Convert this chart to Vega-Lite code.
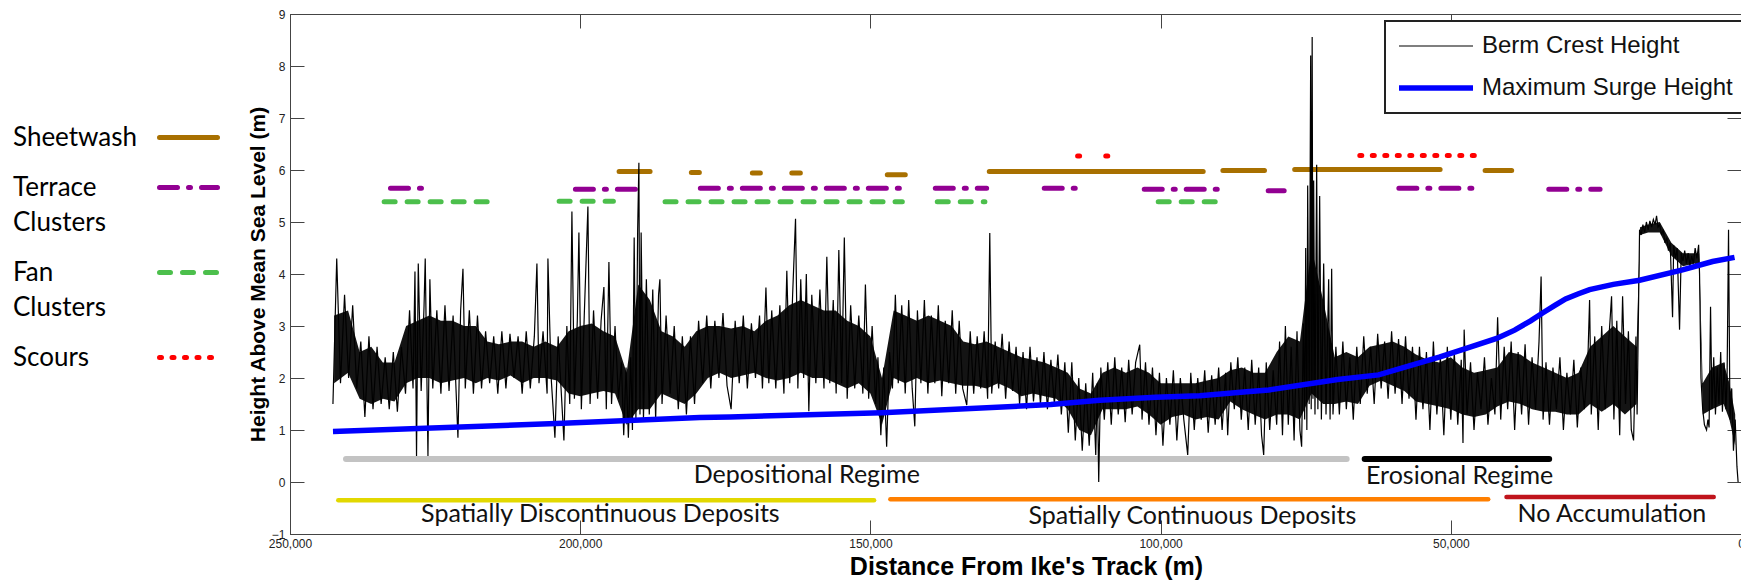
{
"$schema": "https://vega.github.io/schema/vega-lite/v6.json",
"width": 1451, "height": 520,
"autosize": {"type": "none"},
"padding": {"left": 290, "top": 14, "right": 0, "bottom": 48},
"background": "white",
"config": {
  "view": {"stroke": "#444", "strokeWidth": 1},
  "font": "Liberation Sans",
  "axis": {"domainColor": "#444", "tickColor": "#444", "domainWidth": 1, "tickWidth": 1, "labelColor": "#222", "labelFont": "Liberation Sans", "labelFontSize": 12, "grid": false, "titleColor": "#000"}
},
"datasets": {
"core": [
{"d":242400,"lo":1.9,"hi":3.2},{"d":240000,"lo":2.1,"hi":3.3},{"d":238000,"lo":1.6,"hi":2.5},{"d":236000,"lo":1.5,"hi":2.6},{"d":234000,"lo":1.6,"hi":2.3},{"d":232000,"lo":1.55,"hi":2.3},{"d":230000,"lo":1.9,"hi":3.0},{"d":228000,"lo":2.0,"hi":3.1},{"d":226000,"lo":2.0,"hi":3.2},{"d":224000,"lo":1.9,"hi":3.1},{"d":222000,"lo":1.95,"hi":3.1},{"d":220000,"lo":2.0,"hi":3.0},{"d":218000,"lo":1.9,"hi":3.0},{"d":216000,"lo":2.0,"hi":2.7},{"d":214000,"lo":1.95,"hi":2.65},{"d":212000,"lo":2.05,"hi":2.7},{"d":210000,"lo":1.9,"hi":2.7},{"d":208000,"lo":2.0,"hi":2.6},{"d":206000,"lo":2.0,"hi":2.7},{"d":204000,"lo":1.95,"hi":2.6},{"d":202000,"lo":1.7,"hi":2.9},{"d":200000,"lo":1.65,"hi":3.0},{"d":198000,"lo":1.7,"hi":3.05},{"d":196000,"lo":1.75,"hi":2.9},{"d":194000,"lo":1.7,"hi":2.8},{"d":192000,"lo":1.1,"hi":2.1},{"d":190000,"lo":1.4,"hi":3.8},{"d":188000,"lo":1.4,"hi":3.5},{"d":186000,"lo":1.7,"hi":2.9},{"d":184000,"lo":1.6,"hi":2.8},{"d":182000,"lo":1.5,"hi":2.6},{"d":180000,"lo":1.7,"hi":2.9},{"d":178000,"lo":2.0,"hi":3.0},{"d":176000,"lo":2.1,"hi":3.0},{"d":174000,"lo":2.0,"hi":2.95},{"d":172000,"lo":2.05,"hi":3.0},{"d":170000,"lo":2.1,"hi":2.9},{"d":168000,"lo":2.0,"hi":3.1},{"d":166000,"lo":1.95,"hi":3.2},{"d":164000,"lo":2.0,"hi":3.4},{"d":162000,"lo":2.1,"hi":3.5},{"d":160000,"lo":2.0,"hi":3.4},{"d":158000,"lo":2.0,"hi":3.3},{"d":156000,"lo":1.9,"hi":3.3},{"d":154000,"lo":1.8,"hi":3.1},{"d":152000,"lo":1.9,"hi":3.0},{"d":150000,"lo":1.7,"hi":2.8},{"d":148000,"lo":1.1,"hi":2.0},{"d":146000,"lo":2.0,"hi":3.3},{"d":144000,"lo":1.9,"hi":3.2},{"d":142000,"lo":2.0,"hi":3.1},{"d":140000,"lo":1.9,"hi":3.2},{"d":138000,"lo":1.95,"hi":3.1},{"d":136000,"lo":1.9,"hi":3.0},{"d":134000,"lo":1.85,"hi":2.7},{"d":132000,"lo":1.85,"hi":2.65},{"d":130000,"lo":1.8,"hi":2.7},{"d":128000,"lo":1.9,"hi":2.6},{"d":126000,"lo":1.8,"hi":2.5},{"d":124000,"lo":1.65,"hi":2.4},{"d":122000,"lo":1.7,"hi":2.35},{"d":120000,"lo":1.65,"hi":2.3},{"d":118000,"lo":1.6,"hi":2.2},{"d":116000,"lo":1.4,"hi":2.1},{"d":114000,"lo":1.0,"hi":1.8},{"d":112000,"lo":0.9,"hi":1.7},{"d":110000,"lo":1.4,"hi":2.1},{"d":108000,"lo":1.4,"hi":2.2},{"d":106000,"lo":1.4,"hi":2.1},{"d":104000,"lo":1.45,"hi":2.2},{"d":102000,"lo":1.3,"hi":2.1},{"d":100000,"lo":1.1,"hi":1.9},{"d":98000,"lo":1.25,"hi":1.9},{"d":96000,"lo":1.3,"hi":1.9},{"d":94000,"lo":1.2,"hi":1.9},{"d":92000,"lo":1.25,"hi":1.95},{"d":90000,"lo":1.2,"hi":2.0},{"d":88000,"lo":1.55,"hi":2.15},{"d":86000,"lo":1.4,"hi":2.2},{"d":84000,"lo":1.3,"hi":2.1},{"d":82000,"lo":1.2,"hi":2.1},{"d":80000,"lo":1.3,"hi":2.5},{"d":78000,"lo":1.3,"hi":2.8},{"d":76000,"lo":1.2,"hi":2.7},{"d":74000,"lo":1.7,"hi":4.5},{"d":72000,"lo":1.5,"hi":3.5},{"d":70000,"lo":1.5,"hi":2.4},{"d":68000,"lo":1.55,"hi":2.5},{"d":66000,"lo":1.5,"hi":2.4},{"d":64000,"lo":1.85,"hi":2.6},{"d":62000,"lo":1.95,"hi":2.65},{"d":60000,"lo":1.85,"hi":2.7},{"d":58000,"lo":1.75,"hi":2.6},{"d":56000,"lo":1.55,"hi":2.45},{"d":54000,"lo":1.5,"hi":2.35},{"d":52000,"lo":1.45,"hi":2.3},{"d":50000,"lo":1.4,"hi":2.4},{"d":48000,"lo":1.3,"hi":2.2},{"d":46000,"lo":1.25,"hi":2.1},{"d":44000,"lo":1.3,"hi":2.15},{"d":42000,"lo":1.45,"hi":2.2},{"d":40000,"lo":1.55,"hi":2.5},{"d":38000,"lo":1.5,"hi":2.45},{"d":36000,"lo":1.4,"hi":2.3},{"d":34000,"lo":1.35,"hi":2.2},{"d":32000,"lo":1.35,"hi":2.1},{"d":30000,"lo":1.3,"hi":2.0},{"d":28000,"lo":1.3,"hi":2.1},{"d":26000,"lo":1.5,"hi":2.6},{"d":24000,"lo":1.35,"hi":2.8},{"d":22000,"lo":1.5,"hi":3.0},{"d":20000,"lo":1.3,"hi":2.8},{"d":18000,"lo":1.5,"hi":2.6},{"d":17400,"lo":4.75,"hi":4.9},{"d":16000,"lo":4.8,"hi":4.95},{"d":14000,"lo":4.8,"hi":5.0},{"d":12000,"lo":4.35,"hi":4.6},{"d":10000,"lo":4.15,"hi":4.4},{"d":8000,"lo":4.2,"hi":4.4},{"d":7200,"lo":4.1,"hi":4.4},{"d":6600,"lo":1.3,"hi":1.9},{"d":5000,"lo":1.4,"hi":2.2},{"d":3000,"lo":1.5,"hi":2.3},{"d":2000,"lo":1.2,"hi":1.9},{"d":1000,"lo":0.7,"hi":1.3}
],
"lines": [
{"s":"B","d":242600,"h":1.5},{"s":"B","d":241950,"h":4.3},{"s":"B","d":241300,"h":1.9},{"s":"B","d":240600,"h":3.6},{"s":"B","d":239900,"h":2.0},{"s":"B","d":239200,"h":3.4},{"s":"B","d":238500,"h":1.8},{"s":"B","d":237800,"h":2.7},{"s":"B","d":237100,"h":1.25},{"s":"B","d":236400,"h":2.8},{"s":"B","d":235700,"h":1.4},{"s":"B","d":235000,"h":2.6},{"s":"B","d":234300,"h":1.5},{"s":"B","d":233600,"h":2.4},{"s":"B","d":232900,"h":1.4},{"s":"B","d":232200,"h":2.5},{"s":"B","d":231500,"h":1.35},{"s":"B","d":230800,"h":2.6},
{"s":"B","d":230100,"h":1.7},{"s":"B","d":229400,"h":3.3},{"s":"B","d":228800,"h":1.8},{"s":"B","d":228470,"h":4.05},{"s":"B","d":228200,"h":0.5},{"s":"B","d":227900,"h":4.2},{"s":"B","d":227400,"h":1.75},{"s":"B","d":226900,"h":3.4},{"s":"B","d":226700,"h":4.3},{"s":"B","d":226230,"h":0.5},{"s":"B","d":225900,"h":3.9},{"s":"B","d":225400,"h":1.8},{"s":"B","d":224700,"h":3.3},{"s":"B","d":224000,"h":1.7},{"s":"B","d":223300,"h":3.4},{"s":"B","d":222600,"h":1.75},{"s":"B","d":221900,"h":3.2},{"s":"B","d":221064,"h":0.85},{"s":"B","d":220600,"h":3.3},{"s":"B","d":220200,"h":4.1},{"s":"B","d":219800,"h":1.8},{"s":"B","d":219100,"h":3.3},{"s":"B","d":218400,"h":1.7},{"s":"B","d":217700,"h":3.2},
{"s":"B","d":217000,"h":1.8},{"s":"B","d":216300,"h":2.9},{"s":"B","d":215600,"h":1.9},{"s":"B","d":214900,"h":2.8},{"s":"B","d":214200,"h":1.7},{"s":"B","d":213500,"h":2.9},{"s":"B","d":212800,"h":1.8},{"s":"B","d":212100,"h":2.85},{"s":"B","d":211400,"h":2.0},{"s":"B","d":210700,"h":2.8},{"s":"B","d":210000,"h":1.7},{"s":"B","d":209300,"h":2.9},{"s":"B","d":208600,"h":1.8},{"s":"B","d":207900,"h":2.8},{"s":"B","d":207457,"h":4.2},{"s":"B","d":207100,"h":1.9},{"s":"B","d":206400,"h":2.9},{"s":"B","d":205700,"h":1.7},{"s":"B","d":205562,"h":4.3},{"s":"B","d":205000,"h":2.0},{"s":"B","d":204356,"h":0.85},{"s":"B","d":203800,"h":2.8},{"s":"B","d":203300,"h":1.8},{"s":"B","d":202806,"h":0.8},
{"s":"B","d":202300,"h":3.0},{"s":"B","d":201800,"h":1.5},{"s":"B","d":201428,"h":5.2},{"s":"B","d":201000,"h":1.6},{"s":"B","d":200500,"h":3.1},{"s":"B","d":200223,"h":4.8},{"s":"B","d":199800,"h":1.4},{"s":"B","d":199300,"h":3.2},{"s":"B","d":198672,"h":5.3},{"s":"B","d":198300,"h":1.5},{"s":"B","d":197700,"h":3.3},{"s":"B","d":197000,"h":1.6},{"s":"B","d":196400,"h":3.1},{"s":"B","d":195917,"h":3.75},{"s":"B","d":195500,"h":1.4},{"s":"B","d":195053,"h":4.23},{"s":"B","d":194600,"h":1.5},{"s":"B","d":194000,"h":3.0},{"s":"B","d":193400,"h":1.6},
{"s":"B","d":192900,"h":2.3},{"s":"B","d":192500,"h":0.9},{"s":"B","d":192100,"h":2.2},{"s":"B","d":191700,"h":0.85},{"s":"B","d":191300,"h":2.4},{"s":"B","d":191000,"h":1.0},{"s":"B","d":190700,"h":4.7},{"s":"B","d":190400,"h":1.2},{"s":"B","d":190100,"h":4.85},{"s":"B","d":189888,"h":6.14},{"s":"B","d":189700,"h":1.3},{"s":"B","d":189500,"h":4.8},{"s":"B","d":189100,"h":1.2},{"s":"B","d":188600,"h":3.9},{"s":"B","d":188100,"h":1.3},{"s":"B","d":187500,"h":3.7},{"s":"B","d":187000,"h":1.2},{"s":"B","d":186500,"h":3.6},{"s":"B","d":186271,"h":3.9},
{"s":"B","d":185900,"h":1.5},{"s":"B","d":185200,"h":3.2},{"s":"B","d":184500,"h":1.7},{"s":"B","d":183800,"h":3.0},{"s":"B","d":183100,"h":1.4},{"s":"B","d":182400,"h":2.8},{"s":"B","d":181700,"h":1.3},{"s":"B","d":181000,"h":2.8},{"s":"B","d":180300,"h":1.5},{"s":"B","d":179600,"h":3.1},
{"s":"B","d":178900,"h":1.9},{"s":"B","d":178200,"h":3.2},{"s":"B","d":177500,"h":1.8},{"s":"B","d":176800,"h":3.1},{"s":"B","d":176100,"h":2.0},{"s":"B","d":175400,"h":3.25},{"s":"B","d":174700,"h":1.85},{"s":"B","d":174000,"h":1.4},{"s":"B","d":173300,"h":3.1},{"s":"B","d":172600,"h":1.9},{"s":"B","d":171900,"h":3.2},{"s":"B","d":171200,"h":1.8},{"s":"B","d":170500,"h":3.05},{"s":"B","d":169800,"h":2.0},{"s":"B","d":169100,"h":3.2},{"s":"B","d":168600,"h":1.8},
{"s":"B","d":168000,"h":3.74},{"s":"B","d":167500,"h":1.9},{"s":"B","d":167000,"h":3.3},{"s":"B","d":166300,"h":1.8},{"s":"B","d":165600,"h":3.4},{"s":"B","d":164900,"h":1.7},{"s":"B","d":164400,"h":4.06},{"s":"B","d":163900,"h":1.9},{"s":"B","d":163400,"h":3.6},{"s":"B","d":162900,"h":5.06},{"s":"B","d":162500,"h":1.8},{"s":"B","d":162000,"h":3.9},{"s":"B","d":161500,"h":2.0},{"s":"B","d":161040,"h":4.0},{"s":"B","d":160607,"h":1.36},{"s":"B","d":160100,"h":3.6},{"s":"B","d":159400,"h":1.9},{"s":"B","d":158700,"h":3.7},{"s":"B","d":158000,"h":1.8},{"s":"B","d":157507,"h":4.33},{"s":"B","d":157000,"h":1.9},{"s":"B","d":156400,"h":3.5},{"s":"B","d":155900,"h":1.7},{"s":"B","d":155440,"h":4.46},{"s":"B","d":154950,"h":1.9},{"s":"B","d":154493,"h":4.7},{"s":"B","d":154000,"h":1.6},{"s":"B","d":153400,"h":3.4},{"s":"B","d":152700,"h":1.8},{"s":"B","d":152000,"h":3.2},{"s":"B","d":151300,"h":1.7},{"s":"B","d":150860,"h":3.8},{"s":"B","d":150300,"h":1.6},{"s":"B","d":149700,"h":3.0},{"s":"B","d":149100,"h":1.5},
{"s":"B","d":148700,"h":2.4},{"s":"B","d":148200,"h":0.9},{"s":"B","d":147700,"h":2.2},{"s":"B","d":147200,"h":0.68},{"s":"B","d":146700,"h":2.5},{"s":"B","d":146200,"h":1.8},{"s":"B","d":145700,"h":3.6},{"s":"B","d":145200,"h":1.9},{"s":"B","d":144600,"h":3.4},{"s":"B","d":144000,"h":1.7},{"s":"B","d":143400,"h":3.5},{"s":"B","d":142800,"h":1.8},{"s":"B","d":142350,"h":1.07},
{"s":"B","d":141900,"h":3.3},{"s":"B","d":141300,"h":1.9},{"s":"B","d":140700,"h":3.5},{"s":"B","d":140100,"h":1.7},{"s":"B","d":139500,"h":3.2},{"s":"B","d":138900,"h":1.9},{"s":"B","d":138300,"h":3.4},{"s":"B","d":137700,"h":1.65},{"s":"B","d":137100,"h":3.1},{"s":"B","d":136500,"h":1.9},{"s":"B","d":135900,"h":3.3},{"s":"B","d":135300,"h":1.7},{"s":"B","d":134700,"h":3.1},{"s":"B","d":134100,"h":1.8},
{"s":"B","d":133398,"h":1.48},{"s":"B","d":132800,"h":2.9},{"s":"B","d":132200,"h":1.7},{"s":"B","d":131600,"h":2.8},{"s":"B","d":131000,"h":1.8},{"s":"B","d":130400,"h":2.9},{"s":"B","d":129800,"h":1.6},{"s":"B","d":129432,"h":4.79},{"s":"B","d":129100,"h":1.7},{"s":"B","d":128500,"h":2.7},{"s":"B","d":127900,"h":1.8},{"s":"B","d":127300,"h":2.85},{"s":"B","d":126700,"h":1.6},{"s":"B","d":126100,"h":2.7},{"s":"B","d":125500,"h":1.75},
{"s":"B","d":124900,"h":2.6},{"s":"B","d":124300,"h":1.5},{"s":"B","d":123700,"h":2.5},{"s":"B","d":123100,"h":1.4},{"s":"B","d":122500,"h":2.6},{"s":"B","d":121900,"h":1.55},{"s":"B","d":121300,"h":2.4},{"s":"B","d":120700,"h":1.5},{"s":"B","d":120100,"h":2.5},{"s":"B","d":119500,"h":1.4},{"s":"B","d":118900,"h":2.35},{"s":"B","d":118300,"h":1.5},{"s":"B","d":117700,"h":2.45},{"s":"B","d":117100,"h":1.3},{"s":"B","d":116500,"h":2.3},
{"s":"B","d":115900,"h":0.95},{"s":"B","d":115300,"h":2.3},{"s":"B","d":114700,"h":0.8},{"s":"B","d":114100,"h":2.0},{"s":"B","d":113500,"h":0.6},{"s":"B","d":112900,"h":1.9},{"s":"B","d":112300,"h":0.7},{"s":"B","d":111700,"h":2.1},{"s":"B","d":111174,"h":0.52},{"s":"B","d":110900,"h":1.9},{"s":"B","d":110662,"h":0.0},{"s":"B","d":110300,"h":2.2},
{"s":"B","d":109700,"h":1.2},{"s":"B","d":109100,"h":2.3},{"s":"B","d":108500,"h":1.1},{"s":"B","d":107900,"h":2.4},{"s":"B","d":107300,"h":1.3},{"s":"B","d":106700,"h":2.2},{"s":"B","d":106100,"h":1.15},{"s":"B","d":105500,"h":2.35},{"s":"B","d":104900,"h":1.3},{"s":"B","d":104300,"h":2.3},{"s":"B","d":103596,"h":2.64},{"s":"B","d":103200,"h":1.2},{"s":"B","d":102600,"h":2.3},{"s":"B","d":102000,"h":1.1},
{"s":"B","d":101400,"h":2.2},{"s":"B","d":100800,"h":0.9},{"s":"B","d":100200,"h":2.1},{"s":"B","d":99600,"h":0.7},{"s":"B","d":99000,"h":2.0},{"s":"B","d":98400,"h":1.1},{"s":"B","d":97800,"h":2.15},{"s":"B","d":97200,"h":0.8},{"s":"B","d":96600,"h":2.0},{"s":"B","d":96000,"h":1.2},{"s":"B","d":95329,"h":0.52},
{"s":"B","d":94800,"h":2.1},{"s":"B","d":94200,"h":1.0},{"s":"B","d":93600,"h":2.0},{"s":"B","d":93000,"h":1.2},{"s":"B","d":92400,"h":2.15},{"s":"B","d":91800,"h":0.95},{"s":"B","d":91200,"h":2.05},{"s":"B","d":90600,"h":1.1},{"s":"B","d":90000,"h":2.2},{"s":"B","d":89400,"h":1.0},{"s":"B","d":88800,"h":2.1},
{"s":"B","d":88440,"h":0.9},{"s":"B","d":87900,"h":2.3},{"s":"B","d":87300,"h":1.4},{"s":"B","d":86700,"h":2.4},{"s":"B","d":86100,"h":1.2},{"s":"B","d":85500,"h":2.2},{"s":"B","d":84900,"h":1.0},{"s":"B","d":84300,"h":2.35},{"s":"B","d":83700,"h":1.1},{"s":"B","d":83100,"h":2.2},{"s":"B","d":82600,"h":0.9},{"s":"B","d":82238,"h":0.52},{"s":"B","d":81800,"h":2.3},{"s":"B","d":81200,"h":1.0},{"s":"B","d":80600,"h":2.15},
{"s":"B","d":80000,"h":1.1},{"s":"B","d":79500,"h":2.7},{"s":"B","d":79000,"h":0.9},{"s":"B","d":78500,"h":3.0},{"s":"B","d":78000,"h":1.1},{"s":"B","d":77500,"h":2.6},{"s":"B","d":77000,"h":0.8},{"s":"B","d":76500,"h":2.9},{"s":"B","d":76000,"h":1.0},{"s":"B","d":75700,"h":0.68},{"s":"B","d":75400,"h":3.05},
{"s":"B","d":75177,"h":1.2},{"s":"B","d":75000,"h":4.5},{"s":"B","d":74800,"h":1.0},{"s":"B","d":74660,"h":5.7},{"s":"B","d":74400,"h":1.5},{"s":"B","d":74143,"h":8.2},{"s":"B","d":74050,"h":1.4},{"s":"B","d":73885,"h":8.56},{"s":"B","d":73750,"h":1.6},{"s":"B","d":73627,"h":5.8},{"s":"B","d":73400,"h":1.3},{"s":"B","d":73110,"h":6.1},{"s":"B","d":72900,"h":1.4},{"s":"B","d":72594,"h":5.5},{"s":"B","d":72300,"h":1.2},{"s":"B","d":71905,"h":4.2},{"s":"B","d":71500,"h":1.3},{"s":"B","d":71043,"h":3.9},{"s":"B","d":70800,"h":1.2},{"s":"B","d":70527,"h":4.1},{"s":"B","d":70300,"h":1.3},
{"s":"B","d":69800,"h":2.6},{"s":"B","d":69200,"h":1.3},{"s":"B","d":68600,"h":2.7},{"s":"B","d":68000,"h":1.4},{"s":"B","d":67400,"h":2.4},{"s":"B","d":66800,"h":1.2},{"s":"B","d":66200,"h":2.6},
{"s":"B","d":65600,"h":1.5},{"s":"B","d":65000,"h":2.8},{"s":"B","d":64400,"h":1.7},{"s":"B","d":63800,"h":2.6},{"s":"B","d":63200,"h":1.5},{"s":"B","d":62600,"h":2.85},{"s":"B","d":62000,"h":1.8},{"s":"B","d":61400,"h":2.7},{"s":"B","d":60800,"h":1.6},{"s":"B","d":60200,"h":2.9},{"s":"B","d":59600,"h":1.7},{"s":"B","d":59000,"h":2.75},{"s":"B","d":58400,"h":1.5},{"s":"B","d":57800,"h":2.8},{"s":"B","d":57200,"h":1.6},{"s":"B","d":56600,"h":2.6},
{"s":"B","d":56000,"h":1.2},{"s":"B","d":55400,"h":2.6},{"s":"B","d":54800,"h":1.4},{"s":"B","d":54200,"h":2.5},{"s":"B","d":53600,"h":1.0},{"s":"B","d":53000,"h":2.7},{"s":"B","d":52400,"h":1.3},{"s":"B","d":51800,"h":2.4},{"s":"B","d":51200,"h":0.9},{"s":"B","d":50600,"h":2.6},{"s":"B","d":50000,"h":1.2},{"s":"B","d":49400,"h":2.5},{"s":"B","d":48800,"h":1.1},{"s":"B","d":48200,"h":2.35},{"s":"B","d":47900,"h":0.75},{"s":"B","d":47700,"h":2.93},
{"s":"B","d":47200,"h":1.3},{"s":"B","d":46600,"h":2.3},{"s":"B","d":46000,"h":1.0},{"s":"B","d":45400,"h":2.1},{"s":"B","d":44800,"h":1.4},{"s":"B","d":44200,"h":2.4},{"s":"B","d":43600,"h":1.1},{"s":"B","d":43000,"h":2.0},{"s":"B","d":42400,"h":1.3},
{"s":"B","d":41934,"h":3.17},{"s":"B","d":41400,"h":1.2},{"s":"B","d":40800,"h":2.6},{"s":"B","d":40200,"h":1.4},{"s":"B","d":39600,"h":2.7},{"s":"B","d":39000,"h":1.0},{"s":"B","d":38400,"h":2.5},{"s":"B","d":37800,"h":1.3},{"s":"B","d":37200,"h":2.65},{"s":"B","d":36600,"h":1.1},{"s":"B","d":36000,"h":2.4},{"s":"B","d":35400,"h":1.4},{"s":"B","d":34800,"h":2.7},{"s":"B","d":34441,"h":3.95},{"s":"B","d":34100,"h":1.2},
{"s":"B","d":33600,"h":2.3},{"s":"B","d":33000,"h":1.1},{"s":"B","d":32400,"h":2.2},{"s":"B","d":31800,"h":1.4},{"s":"B","d":31200,"h":2.4},{"s":"B","d":30600,"h":1.0},{"s":"B","d":30000,"h":2.1},{"s":"B","d":29400,"h":1.3},{"s":"B","d":28800,"h":2.35},{"s":"B","d":28200,"h":1.05},{"s":"B","d":27600,"h":2.2},{"s":"B","d":27000,"h":1.4},{"s":"B","d":26400,"h":2.3},{"s":"B","d":26088,"h":3.5},
{"s":"B","d":25800,"h":1.3},{"s":"B","d":25200,"h":2.8},{"s":"B","d":24600,"h":1.0},{"s":"B","d":24000,"h":3.0},{"s":"B","d":23400,"h":1.4},{"s":"B","d":22800,"h":2.7},{"s":"B","d":22300,"h":3.57},{"s":"B","d":21900,"h":1.2},{"s":"B","d":21400,"h":3.1},{"s":"B","d":20900,"h":0.9},{"s":"B","d":20400,"h":3.57},{"s":"B","d":19900,"h":1.5},{"s":"B","d":19400,"h":2.9},{"s":"B","d":18900,"h":1.0},{"s":"B","d":18509,"h":0.8},{"s":"B","d":18100,"h":2.8},{"s":"B","d":17900,"h":1.3},
{"s":"B","d":17476,"h":4.85},{"s":"B","d":17200,"h":4.75},{"s":"B","d":16900,"h":4.95},{"s":"B","d":16600,"h":4.8},{"s":"B","d":16300,"h":5.0},{"s":"B","d":16000,"h":4.85},{"s":"B","d":15700,"h":5.02},{"s":"B","d":15400,"h":4.9},{"s":"B","d":15100,"h":5.05},{"s":"B","d":14800,"h":4.95},{"s":"B","d":14548,"h":5.12},{"s":"B","d":14300,"h":4.9},{"s":"B","d":14000,"h":4.95},{"s":"B","d":13687,"h":4.75},{"s":"B","d":13400,"h":4.85},{"s":"B","d":13100,"h":4.6},{"s":"B","d":12800,"h":4.7},{"s":"B","d":12500,"h":4.45},{"s":"B","d":12200,"h":4.6},{"s":"B","d":11792,"h":3.17},{"s":"B","d":11600,"h":4.55},{"s":"B","d":11300,"h":4.3},{"s":"B","d":11000,"h":4.5},{"s":"B","d":10587,"h":2.93},{"s":"B","d":10300,"h":4.4},{"s":"B","d":10000,"h":4.25},{"s":"B","d":9700,"h":4.45},{"s":"B","d":9400,"h":4.2},{"s":"B","d":9100,"h":4.4},{"s":"B","d":8800,"h":4.15},{"s":"B","d":8500,"h":4.35},{"s":"B","d":8200,"h":4.2},{"s":"B","d":7900,"h":4.5},{"s":"B","d":7600,"h":4.3},{"s":"B","d":7300,"h":4.56},{"s":"B","d":7142,"h":4.0},
{"s":"B","d":6900,"h":2.0},{"s":"B","d":6600,"h":1.4},{"s":"B","d":6300,"h":1.1},{"s":"B","d":5936,"h":1.0},{"s":"B","d":5700,"h":1.2},{"s":"B","d":5500,"h":1.05},{"s":"B","d":5247,"h":3.37},{"s":"B","d":5000,"h":1.4},{"s":"B","d":4700,"h":2.4},{"s":"B","d":4400,"h":1.3},{"s":"B","d":4100,"h":2.2},{"s":"B","d":3800,"h":1.5},{"s":"B","d":3500,"h":2.5},{"s":"B","d":3200,"h":1.35},{"s":"B","d":2900,"h":2.3},{"s":"B","d":2600,"h":1.4},{"s":"B","d":2400,"h":2.0},{"s":"B","d":2147,"h":4.85},{"s":"B","d":1900,"h":1.2},{"s":"B","d":1600,"h":1.8},{"s":"B","d":1300,"h":0.6},{"s":"B","d":1000,"h":1.2},{"s":"B","d":700,"h":0.3},{"s":"B","d":500,"h":0.0},
{"s":"S","d":242594,"h":0.97},{"s":"S","d":202979,"h":1.13},{"s":"S","d":179382,"h":1.24},{"s":"S","d":174214,"h":1.25},{"s":"S","d":148034,"h":1.33},{"s":"S","d":118925,"h":1.49},{"s":"S","d":110486,"h":1.57},{"s":"S","d":100840,"h":1.63},{"s":"S","d":93262,"h":1.66},{"s":"S","d":84650,"h":1.74},{"s":"S","d":81377,"h":1.77},{"s":"S","d":69492,"h":1.97},{"s":"S","d":62431,"h":2.06},{"s":"S","d":57608,"h":2.22},{"s":"S","d":52000,"h":2.4},{"s":"S","d":48135,"h":2.54},{"s":"S","d":42106,"h":2.76},{"s":"S","d":39000,"h":2.92},{"s":"S","d":36250,"h":3.1},{"s":"S","d":34183,"h":3.25},{"s":"S","d":32000,"h":3.4},{"s":"S","d":30222,"h":3.52},{"s":"S","d":28000,"h":3.62},{"s":"S","d":26088,"h":3.7},{"s":"S","d":22000,"h":3.8},{"s":"S","d":17476,"h":3.88},{"s":"S","d":10070,"h":4.08},{"s":"S","d":4902,"h":4.24},{"s":"S","d":1113,"h":4.32}
],
"deposits": [
{"seg":"S1","type":"Sheetwash","d":193300,"v":5.97},{"seg":"S1","type":"Sheetwash","d":187960,"v":5.97},
{"seg":"S2","type":"Sheetwash","d":180850,"v":5.95},{"seg":"S2","type":"Sheetwash","d":179470,"v":5.95},
{"seg":"S3","type":"Sheetwash","d":170340,"v":5.94},{"seg":"S3","type":"Sheetwash","d":168960,"v":5.94},
{"seg":"S4","type":"Sheetwash","d":163540,"v":5.94},{"seg":"S4","type":"Sheetwash","d":162070,"v":5.94},
{"seg":"S5","type":"Sheetwash","d":147090,"v":5.91},{"seg":"S5","type":"Sheetwash","d":143990,"v":5.91},
{"seg":"S6","type":"Sheetwash","d":129520,"v":5.97},{"seg":"S6","type":"Sheetwash","d":92660,"v":5.97},
{"seg":"S7","type":"Sheetwash","d":89270,"v":5.99},{"seg":"S7","type":"Sheetwash","d":82100,"v":5.99},
{"seg":"S8","type":"Sheetwash","d":76900,"v":6.01},{"seg":"S8","type":"Sheetwash","d":51840,"v":6.01},
{"seg":"S9","type":"Sheetwash","d":44090,"v":5.99},{"seg":"S9","type":"Sheetwash","d":39510,"v":5.99},
{"seg":"T1","type":"Terrace Clusters","d":232690,"v":5.65},{"seg":"T1","type":"Terrace Clusters","d":225970,"v":5.65},
{"seg":"T2","type":"Terrace Clusters","d":200830,"v":5.63},{"seg":"T2","type":"Terrace Clusters","d":189630,"v":5.63},
{"seg":"T3","type":"Terrace Clusters","d":179300,"v":5.65},{"seg":"T3","type":"Terrace Clusters","d":144160,"v":5.65},
{"seg":"T4","type":"Terrace Clusters","d":138820,"v":5.65},{"seg":"T4","type":"Terrace Clusters","d":129970,"v":5.65},
{"seg":"T5","type":"Terrace Clusters","d":120050,"v":5.65},{"seg":"T5","type":"Terrace Clusters","d":114530,"v":5.65},
{"seg":"T6","type":"Terrace Clusters","d":102820,"v":5.63},{"seg":"T6","type":"Terrace Clusters","d":89210,"v":5.63},
{"seg":"T7","type":"Terrace Clusters","d":81460,"v":5.6},{"seg":"T7","type":"Terrace Clusters","d":78710,"v":5.6},
{"seg":"T8","type":"Terrace Clusters","d":58950,"v":5.65},{"seg":"T8","type":"Terrace Clusters","d":45290,"v":5.65},
{"seg":"T9","type":"Terrace Clusters","d":33120,"v":5.63},{"seg":"T9","type":"Terrace Clusters","d":24280,"v":5.63},
{"seg":"F1","type":"Fan Clusters","d":233780,"v":5.39},{"seg":"F1","type":"Fan Clusters","d":215860,"v":5.39},
{"seg":"F2","type":"Fan Clusters","d":203630,"v":5.4},{"seg":"F2","type":"Fan Clusters","d":194280,"v":5.4},
{"seg":"F3","type":"Fan Clusters","d":185380,"v":5.39},{"seg":"F3","type":"Fan Clusters","d":144500,"v":5.39},
{"seg":"F4","type":"Fan Clusters","d":138480,"v":5.39},{"seg":"F4","type":"Fan Clusters","d":130270,"v":5.39},
{"seg":"F5","type":"Fan Clusters","d":100410,"v":5.39},{"seg":"F5","type":"Fan Clusters","d":88580,"v":5.39},
{"seg":"R1","type":"Scours","d":114300,"v":6.27},{"seg":"R1","type":"Scours","d":113400,"v":6.27},
{"seg":"R2","type":"Scours","d":109450,"v":6.27},{"seg":"R2","type":"Scours","d":108070,"v":6.27},
{"seg":"R3","type":"Scours","d":65680,"v":6.28},{"seg":"R3","type":"Scours","d":45460,"v":6.28}
],
"regimes": [
{"bar":"Depositional Regime","d":240354,"v":0.44},{"bar":"Depositional Regime","d":67943,"v":0.44},
{"bar":"Erosional Regime","d":64840,"v":0.44},{"bar":"Erosional Regime","d":33050,"v":0.44}
],
"extents": [
{"bar":"Spatially Discontinuous Deposits","d":241680,"v":-0.35},{"bar":"Spatially Discontinuous Deposits","d":149370,"v":-0.35},
{"bar":"Spatially Continuous Deposits","d":146560,"v":-0.33},{"bar":"Spatially Continuous Deposits","d":43560,"v":-0.33},
{"bar":"No Accumulation","d":40400,"v":-0.29},{"bar":"No Accumulation","d":4700,"v":-0.29}
],
"labels": [
{"label":"Depositional Regime","d":160952,"v":-0.02},
{"label":"Erosional Regime","d":48479,"v":-0.03},
{"label":"Spatially Discontinuous Deposits","d":196520,"v":-0.77},
{"label":"Spatially Continuous Deposits","d":94522,"v":-0.81},
{"label":"No Accumulation","d":22247,"v":-0.76}
]
},
"layer": [
{
  "data": {"name": "regimes"},
  "mark": {"type": "line", "strokeWidth": 6, "strokeCap": "round"},
  "encoding": {
    "x": {"field": "d", "type": "quantitative", "scale": {"domain": [250000, 0], "nice": false, "zero": false}, "axis": null},
    "y": {"field": "v", "type": "quantitative", "scale": {"domain": [-1, 9], "nice": false, "zero": false}, "axis": null},
    "detail": {"field": "bar"},
    "color": {"field": "bar", "type": "nominal", "scale": {"domain": ["Depositional Regime", "Erosional Regime"], "range": ["#C3C3C3", "#000000"]}, "legend": null}
  }
},
{
  "data": {"name": "extents"},
  "mark": {"type": "line", "strokeWidth": 4.5, "strokeCap": "round"},
  "encoding": {
    "x": {"field": "d", "type": "quantitative", "axis": null},
    "y": {"field": "v", "type": "quantitative", "axis": null},
    "detail": {"field": "bar"},
    "color": {"field": "bar", "type": "nominal", "scale": {"domain": ["Spatially Discontinuous Deposits", "Spatially Continuous Deposits", "No Accumulation"], "range": ["#E2D800", "#FF7F00", "#C0141C"]}, "legend": null}
  }
},
{
  "data": {"name": "labels"},
  "mark": {"type": "text", "font": "Lato", "fontSize": 25, "align": "center", "baseline": "alphabetic", "color": "#111111"},
  "encoding": {
    "x": {"field": "d", "type": "quantitative", "axis": null},
    "y": {"field": "v", "type": "quantitative", "axis": null},
    "text": {"field": "label"}
  }
},
{
  "data": {"name": "deposits"},
  "mark": {"type": "line", "strokeWidth": 5, "strokeCap": "round"},
  "encoding": {
    "x": {"field": "d", "type": "quantitative", "axis": {"orient": "top", "labels": false, "title": null, "tickSize": -14, "values": [250000, 200000, 150000, 100000, 50000, 0]}},
    "y": {"field": "v", "type": "quantitative", "axis": {"orient": "right", "labels": false, "title": null, "tickSize": -14, "values": [-1, 0, 1, 2, 3, 4, 5, 6, 7, 8, 9]}},
    "detail": {"field": "seg"},
    "color": {"field": "type", "type": "nominal", "title": null,
      "scale": {"domain": ["Sheetwash", "Terrace Clusters", "Fan Clusters", "Scours"], "range": ["#A87000", "#920092", "#4CBF4C", "#FF0000"]},
      "legend": {"orient": "none", "legendX": -133, "legendY": 92, "title": null, "symbolType": "stroke", "symbolSize": 3364, "symbolStrokeWidth": 5, "labelFont": "Lato", "labelFontSize": 26, "labelColor": "#000000", "labelAlign": "left", "labelOffset": -207, "labelLimit": 300, "rowPadding": 5, "padding": 0, "labelExpr": "split(datum.label, ' ')",
        "encode": {"symbols": {"update": {"strokeCap": {"value": "round"}}}, "labels": {"update": {"lineHeight": {"value": 35}}}}}},
    "strokeDash": {"field": "type", "type": "nominal", "title": null,
      "scale": {"domain": ["Sheetwash", "Terrace Clusters", "Fan Clusters", "Scours"], "range": [[1, 0], [18, 11, 2, 11], [11, 12], [2, 10.5]]},
      "legend": {"orient": "none", "legendX": -133, "legendY": 92, "title": null, "symbolType": "stroke", "symbolSize": 3364, "symbolStrokeWidth": 5, "labelFont": "Lato", "labelFontSize": 26, "labelColor": "#000000", "labelAlign": "left", "labelOffset": -207, "labelLimit": 300, "rowPadding": 5, "padding": 0, "labelExpr": "split(datum.label, ' ')",
        "encode": {"symbols": {"update": {"strokeCap": {"value": "round"}}}, "labels": {"update": {"lineHeight": {"value": 35}}}}}}
  }
},
{
  "data": {"name": "core"},
  "mark": {"type": "area", "color": "#000000", "opacity": 0.92},
  "encoding": {
    "x": {"field": "d", "type": "quantitative", "axis": null},
    "y": {"field": "lo", "type": "quantitative", "axis": null},
    "y2": {"field": "hi"}
  }
},
{
  "data": {"name": "lines"},
  "mark": {"type": "line"},
  "encoding": {
    "x": {"field": "d", "type": "quantitative", "axis": {"orient": "bottom", "values": [250000, 200000, 150000, 100000, 50000, 0], "format": ",d", "tickSize": -14, "labelPadding": 18, "labelFlush": false, "labelOverlap": false, "title": "Distance From Ike's Track (m)", "titleFont": "Liberation Sans", "titleFontWeight": "bold", "titleFontSize": 25, "titleX": 736, "titleY": 20, "titleBaseline": "top"}},
    "y": {"field": "h", "type": "quantitative", "axis": {"orient": "left", "values": [-1, 0, 1, 2, 3, 4, 5, 6, 7, 8, 9], "tickSize": -14, "labelPadding": 19, "labelFlush": false, "labelOverlap": false, "title": "Height Above Mean Sea Level (m)", "titleFont": "Liberation Sans", "titleFontWeight": "bold", "titleFontSize": 21, "titleX": -22}},
    "detail": {"field": "s"},
    "color": {"field": "s", "type": "nominal", "title": null,
      "scale": {"domain": ["B", "S"], "range": ["#000000", "#0000FF"]},
      "legend": {"orient": "none", "legendX": 1095, "legendY": 7, "title": null, "symbolType": "stroke", "symbolSize": 5476, "symbolStrokeWidth": 1.3, "clipHeight": 28, "labelFont": "Liberation Sans", "labelFontSize": 24, "labelColor": "#111111", "labelOffset": 6, "labelLimit": 400, "rowPadding": 14, "padding": 11, "strokeColor": "#222222", "fillColor": "#ffffff",
        "labelExpr": "datum.label == 'B' ? 'Berm Crest Height' : 'Maximum Surge Height'",
        "encode": {"symbols": {"update": {"strokeWidth": {"signal": "datum.value == 'S' ? 11 : 1.3"}}}, "legend": {"update": {"strokeWidth": {"value": 2}}}}}},
    "strokeWidth": {"field": "s", "type": "nominal", "scale": {"domain": ["B", "S"], "range": [1.2, 5.5]}, "legend": null}
  }
}
],
"resolve": {
  "scale": {"color": "independent", "strokeDash": "independent", "strokeWidth": "independent"},
  "axis": {"x": "independent", "y": "independent"},
  "legend": {"color": "independent", "strokeDash": "independent"}
}
}
